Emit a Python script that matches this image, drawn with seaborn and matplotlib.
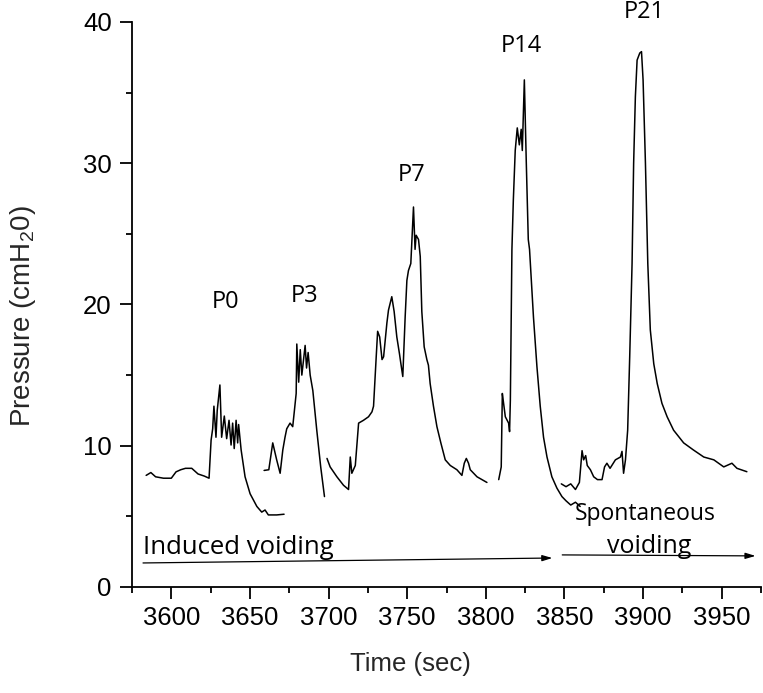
import matplotlib
matplotlib.use("Agg")
import matplotlib.pyplot as plt
from matplotlib.ticker import MultipleLocator
import pandas as pd
import seaborn as sns

# pressure trace, one list pair per recording segment (time in s, pressure in cmH2O)
t_p0 = [3584, 3587, 3590, 3595, 3600, 3603, 3606, 3609, 3613, 3617, 3621, 3624,
        3625.3, 3626.3, 3627.1, 3628.4, 3629.2, 3630.9, 3632, 3633.7, 3635.2, 3636.7,
        3638, 3639, 3640, 3641.2, 3642.2, 3642.8, 3644.4, 3646.9, 3650.1, 3654.4,
        3657.5, 3659.6, 3661.7, 3667, 3671.7]
p_p0 = [7.9, 8.1, 7.8, 7.7, 7.7, 8.15, 8.3, 8.4, 8.4, 8.0, 7.85, 7.7,
        10.4, 11.2, 12.8, 10.6, 12.5, 14.3, 10.6, 12.1, 10.5, 11.8,
        10.05, 11.6, 9.8, 11.8, 10.2, 11.5, 9.7, 7.8, 6.6, 5.7,
        5.3, 5.45, 5.1, 5.1, 5.15]

t_p3 = [3659, 3662, 3664.5, 3667, 3669.2, 3670.9, 3672.3, 3673.4, 3675.5, 3677.2,
        3678.1, 3679.4, 3679.8, 3681, 3682, 3683, 3684, 3685.1, 3686, 3687,
        3688.3, 3690, 3692.5, 3695, 3697.4]
p_p3 = [8.25, 8.3, 10.2, 9.0, 8.05, 9.7, 10.6, 11.2, 11.6, 11.35,
        12.3, 13.7, 17.2, 14.5, 16.8, 15.0, 16.0, 17.1, 15.5, 16.6,
        15.0, 13.9, 11.1, 8.5, 6.4]

t_p7 = [3699, 3701, 3705.3, 3709.5, 3712.7, 3713.8, 3714.8, 3717, 3719.1, 3722.2,
        3725.4, 3727.6, 3728.6, 3730.3, 3731.2, 3732.5, 3734, 3735, 3737.1, 3738.1,
        3740.2, 3741.7, 3743.4, 3745.1, 3746, 3747.2, 3748.7, 3749.8, 3750.8, 3752.3,
        3754, 3755, 3755.7, 3757.2, 3758.3, 3759.3, 3760.8, 3762.5, 3763.5, 3764.6,
        3766.7, 3768.9, 3771.4, 3774.2, 3777.4, 3781.6, 3784.8, 3786.3, 3787.6, 3789,
        3790.1, 3794.4, 3800.7]
p_p7 = [9.1, 8.5, 7.8, 7.2, 6.9, 9.2, 8.05, 8.6, 11.6, 11.8,
        12.05, 12.4, 12.8, 16.3, 18.1, 17.7, 16.1, 16.3, 18.7, 19.6,
        20.55, 19.5, 17.7, 16.5, 15.8, 14.9, 19.1, 21.7, 22.4, 22.9,
        26.9, 23.9, 24.9, 24.6, 23.4, 19.5, 17.0, 16.1, 15.7, 14.4,
        12.8, 11.35, 10.2, 9.0, 8.6, 8.3, 7.9, 8.76, 9.1, 8.76,
        8.3, 7.8, 7.4]

t_p14 = [3808.2, 3809.8, 3810.5, 3811.3, 3812.4, 3814.5, 3815.1, 3815.6, 3816.6, 3817.5,
         3818.7, 3820, 3821.3, 3822.5, 3823.2, 3824.5, 3825.7, 3827, 3827.8, 3830.3,
         3832.5, 3834.6, 3836.7, 3838.9, 3842, 3845.2, 3848.4, 3851, 3854, 3857, 3860]
p_p14 = [7.6, 8.5, 13.7, 13.0, 12.05, 11.6, 11.0, 13.2, 23.9, 27.4,
         30.9, 32.5, 31.3, 32.4, 30.9, 35.9, 30.2, 24.6, 23.9, 19.1,
         15.6, 12.8, 10.6, 9.2, 7.8, 7.0, 6.4, 6.1, 5.8, 6.0, 5.7]

t_p21 = [3848, 3851, 3854, 3857, 3859.5, 3861.2, 3862.2, 3863.5, 3864.5, 3866.5,
         3868.6, 3871, 3873.9, 3875.5, 3877, 3879, 3882.4, 3885.6, 3886.6, 3887.6,
         3888.8, 3890.2, 3891.5, 3893, 3894, 3895.1, 3896.2, 3897.9, 3899, 3900,
         3901.5, 3903, 3904.6, 3906.8, 3909, 3912, 3915.3, 3919.4, 3925.8, 3932,
         3938.6, 3945, 3951.3, 3956.5, 3959.7, 3966]
p_p21 = [7.3, 7.1, 7.3, 6.9, 7.4, 9.65, 9.0, 9.3, 8.6, 8.3,
         7.8, 7.6, 7.6, 8.5, 8.76, 8.4, 9.0, 9.2, 9.6, 8.05,
         9.0, 11.1, 16.3, 22.9, 30.0, 34.7, 37.3, 37.8, 37.9, 35.9,
         30.0, 22.9, 18.2, 15.8, 14.4, 13.0, 12.05, 11.1, 10.2, 9.7,
         9.2, 9.0, 8.5, 8.76, 8.4, 8.16]

peak_labels = ["P0", "P3", "P7", "P14", "P21"]
peak_label_x = [3634.2, 3685, 3752.6, 3822.6, 3900.9]
peak_label_y = [20.2, 20.6, 29.2, 38.3, 40.7]

segments = {"P0": (t_p0, p_p0), "P3": (t_p3, p_p3), "P7": (t_p7, p_p7),
            "P14": (t_p14, p_p14), "P21": (t_p21, p_p21)}

frames = [pd.DataFrame({"time": t, "pressure": p, "segment": name})
          for name, (t, p) in segments.items()]
df = pd.concat(frames, ignore_index=True)

sns.set_style("ticks")
plt.rcParams["font.family"] = ["Liberation Sans", "DejaVu Sans"]
plt.rcParams["mathtext.default"] = "regular"

fig = plt.figure(figsize=(7.63, 6.93), dpi=100)
ax = fig.add_axes([0.1730, 0.1530, 0.8244, 0.8153])

sns.lineplot(data=df, x="time", y="pressure", units="segment", estimator=None,
             sort=False, color="black", linewidth=1.1, ax=ax)

ax.set_xlim(3575, 3975)
ax.set_ylim(0, 40)
sns.despine(ax=ax)
for side in ["left", "bottom"]:
    ax.spines[side].set_linewidth(1.3)
    ax.spines[side].set_color("black")

ax.xaxis.set_major_locator(MultipleLocator(50))
ax.xaxis.set_minor_locator(MultipleLocator(25))
ax.yaxis.set_major_locator(MultipleLocator(10))
ax.yaxis.set_minor_locator(MultipleLocator(5))
ax.tick_params(which="major", length=8.5, width=1.3, color="black",
               labelsize=18.5, labelcolor="black")
ax.tick_params(which="minor", length=4.3, width=1.3, color="black")
ax.tick_params(axis="x", which="major", pad=5)
ax.tick_params(axis="y", which="major", pad=6)

ax.set_xlabel("Time (sec)", fontsize=18.5)
ax.set_ylabel("Pressure (cmH$_2$0)", fontsize=20)
ax.xaxis.set_label_coords(0.442, -0.115)
ax.yaxis.set_label_coords(-0.15, 0.48)

ann_font = ["Open Sans", "DejaVu Sans"]
for label, x, y in zip(peak_labels, peak_label_x, peak_label_y):
    ax.text(x, y, label, family=ann_font, fontsize=17, color="black",
            ha="center", va="center", clip_on=False)

ax.text(3582, 2.8, "Induced voiding", family=ann_font, fontsize=18.5,
        color="black", ha="left", va="center")
ax.text(3901.5, 5.2, "Spontaneous", family=ann_font, fontsize=16.5,
        color="black", ha="center", va="center")
ax.text(3904, 2.9, "voiding", family=ann_font, fontsize=18,
        color="black", ha="center", va="center")

arrow = dict(arrowstyle="-|>,head_length=0.6,head_width=0.18", color="black",
             lw=0.9, shrinkA=0, shrinkB=0)
ax.annotate("", xy=(3842.3, 2.05), xytext=(3582, 1.7), arrowprops=arrow)
ax.annotate("", xy=(3971.5, 2.2), xytext=(3848.6, 2.27), arrowprops=arrow)

fig.savefig("out.png", dpi=100)
